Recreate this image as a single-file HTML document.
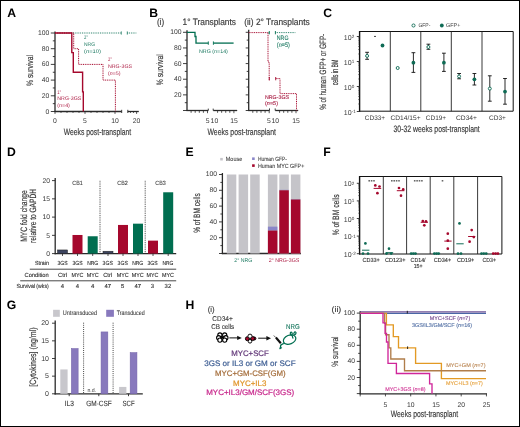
<!DOCTYPE html>
<html><head><meta charset="utf-8"><style>
html,body{margin:0;padding:0;background:#fff;}
svg{display:block;font-family:"Liberation Sans", sans-serif;will-change:transform;}
text{dominant-baseline:central;text-rendering:geometricPrecision;}
</style></head><body>
<svg width="520" height="427" viewBox="0 0 520 427">
<rect x="0.5" y="0.5" width="519" height="426" fill="#fff" stroke="#000" stroke-width="1"/>
<text x="7.30" y="12.70" font-size="12.2" fill="#000" font-weight="bold" >A</text>
<text x="149.15" y="12.85" font-size="12.2" fill="#000" font-weight="bold" >B</text>
<text x="323.35" y="12.70" font-size="12.2" fill="#000" font-weight="bold" >C</text>
<text x="7.05" y="151.95" font-size="12.2" fill="#000" font-weight="bold" >D</text>
<text x="185.55" y="152.10" font-size="12.2" fill="#000" font-weight="bold" >E</text>
<text x="323.35" y="152.10" font-size="12.2" fill="#000" font-weight="bold" >F</text>
<text x="6.80" y="305.25" font-size="12.2" fill="#000" font-weight="bold" >G</text>
<text x="185.55" y="305.10" font-size="12.2" fill="#000" font-weight="bold" >H</text>
<line x1="55.00" y1="31.50" x2="55.00" y2="112.10" stroke="#2a2a2a" stroke-width="1.3" />
<line x1="50.80" y1="111.50" x2="55.00" y2="111.50" stroke="#2a2a2a" stroke-width="0.9" />
<line x1="52.80" y1="103.65" x2="55.00" y2="103.65" stroke="#2a2a2a" stroke-width="0.9" />
<line x1="50.80" y1="95.80" x2="55.00" y2="95.80" stroke="#2a2a2a" stroke-width="0.9" />
<line x1="52.80" y1="87.95" x2="55.00" y2="87.95" stroke="#2a2a2a" stroke-width="0.9" />
<line x1="50.80" y1="80.10" x2="55.00" y2="80.10" stroke="#2a2a2a" stroke-width="0.9" />
<line x1="52.80" y1="72.25" x2="55.00" y2="72.25" stroke="#2a2a2a" stroke-width="0.9" />
<line x1="50.80" y1="64.40" x2="55.00" y2="64.40" stroke="#2a2a2a" stroke-width="0.9" />
<line x1="52.80" y1="56.55" x2="55.00" y2="56.55" stroke="#2a2a2a" stroke-width="0.9" />
<line x1="50.80" y1="48.70" x2="55.00" y2="48.70" stroke="#2a2a2a" stroke-width="0.9" />
<line x1="52.80" y1="40.85" x2="55.00" y2="40.85" stroke="#2a2a2a" stroke-width="0.9" />
<line x1="50.80" y1="33.00" x2="55.00" y2="33.00" stroke="#2a2a2a" stroke-width="0.9" />
<text x="49.40" y="112.00" font-size="6.8" fill="#3a3a3a" text-anchor="end" >0</text>
<text x="49.40" y="96.30" font-size="6.8" fill="#3a3a3a" text-anchor="end" >20</text>
<text x="49.40" y="80.60" font-size="6.8" fill="#3a3a3a" text-anchor="end" >40</text>
<text x="49.40" y="64.90" font-size="6.8" fill="#3a3a3a" text-anchor="end" >60</text>
<text x="49.40" y="49.20" font-size="6.8" fill="#3a3a3a" text-anchor="end" >80</text>
<text x="49.40" y="33.50" font-size="6.8" fill="#3a3a3a" text-anchor="end" >100</text>
<line x1="54.40" y1="111.50" x2="121.70" y2="111.50" stroke="#2a2a2a" stroke-width="1.3" />
<line x1="121.70" y1="109.80" x2="121.70" y2="113.00" stroke="#2a2a2a" stroke-width="0.9" />
<line x1="127.80" y1="111.50" x2="138.80" y2="111.50" stroke="#2a2a2a" stroke-width="1.3" />
<line x1="127.80" y1="109.80" x2="127.80" y2="113.00" stroke="#2a2a2a" stroke-width="0.9" />
<line x1="55.00" y1="111.50" x2="55.00" y2="113.90" stroke="#2a2a2a" stroke-width="0.8" />
<line x1="61.00" y1="111.50" x2="61.00" y2="112.90" stroke="#2a2a2a" stroke-width="0.8" />
<line x1="67.00" y1="111.50" x2="67.00" y2="112.90" stroke="#2a2a2a" stroke-width="0.8" />
<line x1="73.00" y1="111.50" x2="73.00" y2="112.90" stroke="#2a2a2a" stroke-width="0.8" />
<line x1="79.00" y1="111.50" x2="79.00" y2="112.90" stroke="#2a2a2a" stroke-width="0.8" />
<line x1="85.00" y1="111.50" x2="85.00" y2="113.90" stroke="#2a2a2a" stroke-width="0.8" />
<line x1="91.00" y1="111.50" x2="91.00" y2="112.90" stroke="#2a2a2a" stroke-width="0.8" />
<line x1="97.00" y1="111.50" x2="97.00" y2="112.90" stroke="#2a2a2a" stroke-width="0.8" />
<line x1="103.00" y1="111.50" x2="103.00" y2="112.90" stroke="#2a2a2a" stroke-width="0.8" />
<line x1="109.00" y1="111.50" x2="109.00" y2="112.90" stroke="#2a2a2a" stroke-width="0.8" />
<line x1="115.00" y1="111.50" x2="115.00" y2="113.90" stroke="#2a2a2a" stroke-width="0.8" />
<line x1="130.50" y1="111.50" x2="130.50" y2="112.90" stroke="#2a2a2a" stroke-width="0.8" />
<line x1="133.50" y1="111.50" x2="133.50" y2="112.90" stroke="#2a2a2a" stroke-width="0.8" />
<line x1="136.60" y1="111.50" x2="136.60" y2="113.90" stroke="#2a2a2a" stroke-width="0.8" />
<text x="55.00" y="121.40" font-size="6.8" fill="#3a3a3a" text-anchor="middle" >0</text>
<text x="85.00" y="121.40" font-size="6.8" fill="#3a3a3a" text-anchor="middle" >5</text>
<text x="115.00" y="121.40" font-size="6.8" fill="#3a3a3a" text-anchor="middle" >10</text>
<text x="136.60" y="121.40" font-size="6.8" fill="#3a3a3a" text-anchor="middle" >20</text>
<text x="97.50" y="132.20" font-size="9.2" fill="#3a3a3a" stroke="#3a3a3a" stroke-width="0.18" text-anchor="middle" textLength="67.50" lengthAdjust="spacingAndGlyphs" >Weeks post-transplant</text>
<text x="29.80" y="70.50" font-size="9.2" fill="#3a3a3a" stroke="#3a3a3a" stroke-width="0.18" text-anchor="middle" textLength="31.00" lengthAdjust="spacingAndGlyphs" transform="rotate(-90 29.80 70.50)" >% survival</text>
<polyline points="55.00,33.00 121.50,33.00" fill="none" stroke="#1d7a62" stroke-width="1.1" stroke-dasharray="0.9 0.9" />
<polyline points="127.30,33.00 136.60,33.00" fill="none" stroke="#1d7a62" stroke-width="1.1" stroke-dasharray="0.9 0.9" />
<line x1="121.30" y1="31.40" x2="121.30" y2="34.60" stroke="#1d7a62" stroke-width="0.8" />
<line x1="127.30" y1="31.40" x2="127.30" y2="34.60" stroke="#1d7a62" stroke-width="0.8" />
<polyline points="55.00,33.00 73.70,33.00 73.70,48.70 78.60,48.70 78.60,64.40 103.00,64.40 103.00,80.10 115.40,80.10 115.40,111.50" fill="none" stroke="#a5082d" stroke-width="1.0" stroke-dasharray="1 0.8" />
<polyline points="55.00,33.00 71.80,33.00 71.80,52.62 73.30,52.62 73.30,72.25 82.60,72.25 82.60,91.88 83.30,91.88 83.30,111.50" fill="none" stroke="#a5082d" stroke-width="1.4" />
<text x="84.00" y="38.10" font-size="5.2" fill="#1d7a62" textLength="4.00" lengthAdjust="spacingAndGlyphs" >2°</text>
<text x="84.00" y="45.00" font-size="5.2" fill="#1d7a62" textLength="11.00" lengthAdjust="spacingAndGlyphs" >NRG</text>
<text x="84.00" y="51.70" font-size="5.2" fill="#1d7a62" textLength="17.00" lengthAdjust="spacingAndGlyphs" >(<tspan font-style="italic">n</tspan>=10)</text>
<text x="108.00" y="60.40" font-size="5.2" fill="#b0244a" textLength="4.00" lengthAdjust="spacingAndGlyphs" >2°</text>
<text x="108.00" y="66.80" font-size="5.2" fill="#b0244a" textLength="24.00" lengthAdjust="spacingAndGlyphs" >NRG-3GS</text>
<text x="108.00" y="73.60" font-size="5.2" fill="#b0244a" textLength="12.60" lengthAdjust="spacingAndGlyphs" >(<tspan font-style="italic">n</tspan>=5)</text>
<text x="57.30" y="92.70" font-size="5.2" fill="#b0244a" textLength="4.00" lengthAdjust="spacingAndGlyphs" >1°</text>
<text x="57.30" y="99.20" font-size="5.2" fill="#b0244a" textLength="24.00" lengthAdjust="spacingAndGlyphs" >NRG-3GS</text>
<text x="57.30" y="105.80" font-size="5.2" fill="#b0244a" textLength="12.60" lengthAdjust="spacingAndGlyphs" >(<tspan font-style="italic">n</tspan>=4)</text>
<text x="156.90" y="21.70" font-size="9.3" fill="#3a3a3a" stroke="#3a3a3a" stroke-width="0.18" textLength="7.20" lengthAdjust="spacingAndGlyphs" >(i)</text>
<text x="182.50" y="21.70" font-size="9.3" fill="#3a3a3a" stroke="#3a3a3a" stroke-width="0.18" textLength="53.50" lengthAdjust="spacingAndGlyphs" >1° Transplants</text>
<text x="244.20" y="21.70" font-size="9.3" fill="#3a3a3a" stroke="#3a3a3a" stroke-width="0.18" textLength="65.60" lengthAdjust="spacingAndGlyphs" >(ii) 2° Transplants</text>
<line x1="187.00" y1="30.20" x2="187.00" y2="111.10" stroke="#2a2a2a" stroke-width="1.3" />
<line x1="183.00" y1="110.50" x2="187.00" y2="110.50" stroke="#2a2a2a" stroke-width="0.9" />
<line x1="184.80" y1="102.68" x2="187.00" y2="102.68" stroke="#2a2a2a" stroke-width="0.9" />
<line x1="183.00" y1="94.86" x2="187.00" y2="94.86" stroke="#2a2a2a" stroke-width="0.9" />
<line x1="184.80" y1="87.04" x2="187.00" y2="87.04" stroke="#2a2a2a" stroke-width="0.9" />
<line x1="183.00" y1="79.22" x2="187.00" y2="79.22" stroke="#2a2a2a" stroke-width="0.9" />
<line x1="184.80" y1="71.40" x2="187.00" y2="71.40" stroke="#2a2a2a" stroke-width="0.9" />
<line x1="183.00" y1="63.58" x2="187.00" y2="63.58" stroke="#2a2a2a" stroke-width="0.9" />
<line x1="184.80" y1="55.76" x2="187.00" y2="55.76" stroke="#2a2a2a" stroke-width="0.9" />
<line x1="183.00" y1="47.94" x2="187.00" y2="47.94" stroke="#2a2a2a" stroke-width="0.9" />
<line x1="184.80" y1="40.12" x2="187.00" y2="40.12" stroke="#2a2a2a" stroke-width="0.9" />
<line x1="183.00" y1="32.30" x2="187.00" y2="32.30" stroke="#2a2a2a" stroke-width="0.9" />
<text x="181.60" y="95.36" font-size="6.8" fill="#3a3a3a" text-anchor="end" >20</text>
<text x="181.60" y="79.72" font-size="6.8" fill="#3a3a3a" text-anchor="end" >40</text>
<text x="181.60" y="64.08" font-size="6.8" fill="#3a3a3a" text-anchor="end" >60</text>
<text x="181.60" y="48.44" font-size="6.8" fill="#3a3a3a" text-anchor="end" >80</text>
<text x="181.60" y="32.80" font-size="6.8" fill="#3a3a3a" text-anchor="end" >100</text>
<line x1="186.40" y1="110.50" x2="208.30" y2="110.50" stroke="#2a2a2a" stroke-width="1.3" />
<line x1="208.30" y1="108.60" x2="208.30" y2="110.50" stroke="#2a2a2a" stroke-width="0.9" />
<line x1="213.20" y1="110.50" x2="237.20" y2="110.50" stroke="#2a2a2a" stroke-width="1.3" />
<line x1="213.20" y1="108.60" x2="213.20" y2="110.50" stroke="#2a2a2a" stroke-width="0.9" />
<line x1="191.10" y1="110.50" x2="191.10" y2="112.80" stroke="#2a2a2a" stroke-width="0.8" />
<line x1="195.20" y1="110.50" x2="195.20" y2="112.80" stroke="#2a2a2a" stroke-width="0.8" />
<line x1="199.30" y1="110.50" x2="199.30" y2="112.80" stroke="#2a2a2a" stroke-width="0.8" />
<line x1="203.40" y1="110.50" x2="203.40" y2="112.80" stroke="#2a2a2a" stroke-width="0.8" />
<line x1="207.50" y1="110.50" x2="207.50" y2="113.20" stroke="#2a2a2a" stroke-width="0.8" />
<line x1="217.58" y1="110.50" x2="217.58" y2="112.80" stroke="#2a2a2a" stroke-width="0.8" />
<line x1="221.66" y1="110.50" x2="221.66" y2="112.80" stroke="#2a2a2a" stroke-width="0.8" />
<line x1="225.74" y1="110.50" x2="225.74" y2="112.80" stroke="#2a2a2a" stroke-width="0.8" />
<line x1="229.82" y1="110.50" x2="229.82" y2="112.80" stroke="#2a2a2a" stroke-width="0.8" />
<line x1="233.90" y1="110.50" x2="233.90" y2="113.20" stroke="#2a2a2a" stroke-width="0.8" />
<text x="207.70" y="121.40" font-size="6.8" fill="#3a3a3a" text-anchor="middle" >5</text>
<text x="214.40" y="121.40" font-size="6.8" fill="#3a3a3a" text-anchor="middle" >10</text>
<text x="234.00" y="121.40" font-size="6.8" fill="#3a3a3a" text-anchor="middle" >15</text>
<text x="160.50" y="69.80" font-size="9.2" fill="#3a3a3a" stroke="#3a3a3a" stroke-width="0.18" text-anchor="middle" textLength="31.00" lengthAdjust="spacingAndGlyphs" transform="rotate(-90 160.50 69.80)" >% survival</text>
<text x="241.70" y="131.80" font-size="9.2" fill="#3a3a3a" stroke="#3a3a3a" stroke-width="0.18" text-anchor="middle" textLength="68.50" lengthAdjust="spacingAndGlyphs" >Weeks post-transplant</text>
<polyline points="187.00,32.30 195.00,32.30 195.00,36.50 196.00,36.50 196.00,43.10 208.30,43.10" fill="none" stroke="#006e50" stroke-width="1.3" />
<polyline points="213.40,43.10 233.60,43.10" fill="none" stroke="#006e50" stroke-width="1.3" />
<line x1="208.30" y1="41.40" x2="208.30" y2="44.80" stroke="#006e50" stroke-width="0.9" />
<line x1="213.40" y1="41.40" x2="213.40" y2="44.80" stroke="#006e50" stroke-width="0.9" />
<text x="199.00" y="51.60" font-size="5.2" fill="#1d7a62" textLength="28.90" lengthAdjust="spacingAndGlyphs" >NRG (<tspan font-style="italic">n</tspan>=14)</text>
<line x1="248.70" y1="29.70" x2="248.70" y2="111.10" stroke="#2a2a2a" stroke-width="1.3" />
<line x1="245.70" y1="110.50" x2="248.70" y2="110.50" stroke="#2a2a2a" stroke-width="0.9" />
<line x1="246.70" y1="102.68" x2="248.70" y2="102.68" stroke="#2a2a2a" stroke-width="0.9" />
<line x1="245.70" y1="94.86" x2="248.70" y2="94.86" stroke="#2a2a2a" stroke-width="0.9" />
<line x1="246.70" y1="87.04" x2="248.70" y2="87.04" stroke="#2a2a2a" stroke-width="0.9" />
<line x1="245.70" y1="79.22" x2="248.70" y2="79.22" stroke="#2a2a2a" stroke-width="0.9" />
<line x1="246.70" y1="71.40" x2="248.70" y2="71.40" stroke="#2a2a2a" stroke-width="0.9" />
<line x1="245.70" y1="63.58" x2="248.70" y2="63.58" stroke="#2a2a2a" stroke-width="0.9" />
<line x1="246.70" y1="55.76" x2="248.70" y2="55.76" stroke="#2a2a2a" stroke-width="0.9" />
<line x1="245.70" y1="47.94" x2="248.70" y2="47.94" stroke="#2a2a2a" stroke-width="0.9" />
<line x1="246.70" y1="40.12" x2="248.70" y2="40.12" stroke="#2a2a2a" stroke-width="0.9" />
<line x1="245.70" y1="32.30" x2="248.70" y2="32.30" stroke="#2a2a2a" stroke-width="0.9" />
<line x1="248.10" y1="110.50" x2="269.50" y2="110.50" stroke="#2a2a2a" stroke-width="1.3" />
<line x1="269.50" y1="108.40" x2="269.50" y2="110.50" stroke="#2a2a2a" stroke-width="0.9" />
<line x1="275.20" y1="110.50" x2="298.20" y2="110.50" stroke="#2a2a2a" stroke-width="1.3" />
<line x1="275.20" y1="108.40" x2="275.20" y2="110.50" stroke="#2a2a2a" stroke-width="0.9" />
<line x1="252.80" y1="110.50" x2="252.80" y2="112.80" stroke="#2a2a2a" stroke-width="0.8" />
<line x1="256.90" y1="110.50" x2="256.90" y2="112.80" stroke="#2a2a2a" stroke-width="0.8" />
<line x1="261.00" y1="110.50" x2="261.00" y2="112.80" stroke="#2a2a2a" stroke-width="0.8" />
<line x1="265.10" y1="110.50" x2="265.10" y2="112.80" stroke="#2a2a2a" stroke-width="0.8" />
<line x1="269.20" y1="110.50" x2="269.20" y2="113.20" stroke="#2a2a2a" stroke-width="0.8" />
<line x1="279.60" y1="110.50" x2="279.60" y2="112.80" stroke="#2a2a2a" stroke-width="0.8" />
<line x1="283.70" y1="110.50" x2="283.70" y2="112.80" stroke="#2a2a2a" stroke-width="0.8" />
<line x1="287.80" y1="110.50" x2="287.80" y2="112.80" stroke="#2a2a2a" stroke-width="0.8" />
<line x1="291.90" y1="110.50" x2="291.90" y2="112.80" stroke="#2a2a2a" stroke-width="0.8" />
<line x1="296.00" y1="110.50" x2="296.00" y2="113.20" stroke="#2a2a2a" stroke-width="0.8" />
<text x="269.00" y="121.40" font-size="6.8" fill="#3a3a3a" text-anchor="middle" >5</text>
<text x="275.20" y="121.40" font-size="6.8" fill="#3a3a3a" text-anchor="middle" >10</text>
<text x="296.00" y="121.40" font-size="6.8" fill="#3a3a3a" text-anchor="middle" >15</text>
<polyline points="248.70,32.60 268.00,32.60 268.00,62.00 269.20,62.00 269.20,80.50" fill="none" stroke="#a5082d" stroke-width="1.0" stroke-dasharray="1 0.8" />
<polyline points="275.70,78.60 280.00,78.60 280.00,93.60 296.50,93.60 296.50,110.50" fill="none" stroke="#a5082d" stroke-width="1.0" stroke-dasharray="1 0.8" />
<line x1="269.30" y1="77.00" x2="269.30" y2="80.50" stroke="#a5082d" stroke-width="0.9" />
<line x1="275.70" y1="77.00" x2="275.70" y2="80.30" stroke="#a5082d" stroke-width="0.9" />
<polyline points="268.50,32.60 269.30,32.60" fill="none" stroke="#006e50" stroke-width="1.0" />
<line x1="269.30" y1="31.00" x2="269.30" y2="34.30" stroke="#006e50" stroke-width="0.9" />
<line x1="275.40" y1="31.00" x2="275.40" y2="34.30" stroke="#006e50" stroke-width="0.9" />
<polyline points="275.40,32.60 295.50,32.60" fill="none" stroke="#1d7a62" stroke-width="1.0" stroke-dasharray="0.9 0.9" />
<text x="276.80" y="38.40" font-size="6.4" fill="#1d7a62" stroke="#1d7a62" stroke-width="0.1" textLength="11.70" lengthAdjust="spacingAndGlyphs" >NRG</text>
<text x="276.80" y="45.20" font-size="6.4" fill="#1d7a62" stroke="#1d7a62" stroke-width="0.1" textLength="13.10" lengthAdjust="spacingAndGlyphs" >(<tspan font-style="italic">n</tspan>=5)</text>
<text x="265.00" y="97.60" font-size="5.5" fill="#a91e44" stroke="#a91e44" stroke-width="0.12" textLength="24.00" lengthAdjust="spacingAndGlyphs" >NRG-3GS</text>
<text x="265.00" y="104.00" font-size="5.5" fill="#a91e44" stroke="#a91e44" stroke-width="0.12" textLength="13.00" lengthAdjust="spacingAndGlyphs" >(<tspan font-style="italic">n</tspan>=5)</text>
<circle cx="413.50" cy="25.50" r="1.55" fill="#fff" stroke="#0f6b55" stroke-width="0.9"/>
<text x="418.40" y="25.60" font-size="5.5" fill="#3a3a3a" textLength="12.00" lengthAdjust="spacingAndGlyphs" >GFP-</text>
<circle cx="441.80" cy="25.50" r="1.90" fill="#0f6b55"/>
<text x="446.00" y="25.60" font-size="5.5" fill="#3a3a3a" textLength="14.30" lengthAdjust="spacingAndGlyphs" >GFP+</text>
<line x1="359.60" y1="31.50" x2="513.20" y2="31.50" stroke="#111" stroke-width="1.0" />
<line x1="513.20" y1="31.50" x2="513.20" y2="111.20" stroke="#111" stroke-width="1.0" />
<line x1="359.00" y1="111.20" x2="513.20" y2="111.20" stroke="#111" stroke-width="1.0" />
<line x1="359.60" y1="31.00" x2="359.60" y2="111.70" stroke="#111" stroke-width="1.4" />
<line x1="390.30" y1="31.50" x2="390.30" y2="111.20" stroke="#222" stroke-width="0.9" />
<line x1="420.80" y1="31.50" x2="420.80" y2="111.20" stroke="#222" stroke-width="0.9" />
<line x1="451.30" y1="31.50" x2="451.30" y2="111.20" stroke="#222" stroke-width="0.9" />
<line x1="482.00" y1="31.50" x2="482.00" y2="111.20" stroke="#222" stroke-width="0.9" />
<line x1="356.80" y1="36.50" x2="359.60" y2="36.50" stroke="#2a2a2a" stroke-width="0.9" />
<text x="351.60" y="38.00" font-size="7.0" fill="#3a3a3a" text-anchor="end" >10</text>
<text x="351.80" y="36.30" font-size="4.6" fill="#3a3a3a" >2</text>
<line x1="358.20" y1="53.97" x2="359.60" y2="53.97" stroke="#2a2a2a" stroke-width="0.6" />
<line x1="358.20" y1="49.57" x2="359.60" y2="49.57" stroke="#2a2a2a" stroke-width="0.6" />
<line x1="358.20" y1="46.45" x2="359.60" y2="46.45" stroke="#2a2a2a" stroke-width="0.6" />
<line x1="358.20" y1="44.03" x2="359.60" y2="44.03" stroke="#2a2a2a" stroke-width="0.6" />
<line x1="358.20" y1="42.05" x2="359.60" y2="42.05" stroke="#2a2a2a" stroke-width="0.6" />
<line x1="358.20" y1="40.37" x2="359.60" y2="40.37" stroke="#2a2a2a" stroke-width="0.6" />
<line x1="358.20" y1="38.92" x2="359.60" y2="38.92" stroke="#2a2a2a" stroke-width="0.6" />
<line x1="358.20" y1="37.64" x2="359.60" y2="37.64" stroke="#2a2a2a" stroke-width="0.6" />
<line x1="356.80" y1="61.50" x2="359.60" y2="61.50" stroke="#2a2a2a" stroke-width="0.9" />
<text x="351.60" y="63.00" font-size="7.0" fill="#3a3a3a" text-anchor="end" >10</text>
<text x="351.80" y="61.30" font-size="4.6" fill="#3a3a3a" >1</text>
<line x1="358.20" y1="78.97" x2="359.60" y2="78.97" stroke="#2a2a2a" stroke-width="0.6" />
<line x1="358.20" y1="74.57" x2="359.60" y2="74.57" stroke="#2a2a2a" stroke-width="0.6" />
<line x1="358.20" y1="71.45" x2="359.60" y2="71.45" stroke="#2a2a2a" stroke-width="0.6" />
<line x1="358.20" y1="69.03" x2="359.60" y2="69.03" stroke="#2a2a2a" stroke-width="0.6" />
<line x1="358.20" y1="67.05" x2="359.60" y2="67.05" stroke="#2a2a2a" stroke-width="0.6" />
<line x1="358.20" y1="65.37" x2="359.60" y2="65.37" stroke="#2a2a2a" stroke-width="0.6" />
<line x1="358.20" y1="63.92" x2="359.60" y2="63.92" stroke="#2a2a2a" stroke-width="0.6" />
<line x1="358.20" y1="62.64" x2="359.60" y2="62.64" stroke="#2a2a2a" stroke-width="0.6" />
<line x1="356.80" y1="86.50" x2="359.60" y2="86.50" stroke="#2a2a2a" stroke-width="0.9" />
<text x="351.60" y="88.00" font-size="7.0" fill="#3a3a3a" text-anchor="end" >10</text>
<text x="351.80" y="86.30" font-size="4.6" fill="#3a3a3a" >0</text>
<line x1="358.20" y1="103.97" x2="359.60" y2="103.97" stroke="#2a2a2a" stroke-width="0.6" />
<line x1="358.20" y1="99.57" x2="359.60" y2="99.57" stroke="#2a2a2a" stroke-width="0.6" />
<line x1="358.20" y1="96.45" x2="359.60" y2="96.45" stroke="#2a2a2a" stroke-width="0.6" />
<line x1="358.20" y1="94.03" x2="359.60" y2="94.03" stroke="#2a2a2a" stroke-width="0.6" />
<line x1="358.20" y1="92.05" x2="359.60" y2="92.05" stroke="#2a2a2a" stroke-width="0.6" />
<line x1="358.20" y1="90.37" x2="359.60" y2="90.37" stroke="#2a2a2a" stroke-width="0.6" />
<line x1="358.20" y1="88.92" x2="359.60" y2="88.92" stroke="#2a2a2a" stroke-width="0.6" />
<line x1="358.20" y1="87.64" x2="359.60" y2="87.64" stroke="#2a2a2a" stroke-width="0.6" />
<line x1="356.80" y1="111.50" x2="359.60" y2="111.50" stroke="#2a2a2a" stroke-width="0.9" />
<text x="351.60" y="113.00" font-size="7.0" fill="#3a3a3a" text-anchor="end" >10</text>
<text x="351.80" y="111.30" font-size="4.6" fill="#3a3a3a" >-1</text>
<text x="322.90" y="71.80" font-size="9.2" fill="#3a3a3a" stroke="#3a3a3a" stroke-width="0.18" text-anchor="middle" textLength="76.00" lengthAdjust="spacingAndGlyphs" transform="rotate(-90 322.90 71.80)" >% of human GFP+ or GFP-</text>
<text x="334.60" y="72.40" font-size="9.2" fill="#3a3a3a" stroke="#3a3a3a" stroke-width="0.18" text-anchor="middle" textLength="25.80" lengthAdjust="spacingAndGlyphs" transform="rotate(-90 334.60 72.40)" >cells in BM</text>
<text x="375.00" y="118.40" font-size="6.6" fill="#3a3a3a" text-anchor="middle" textLength="20.30" lengthAdjust="spacingAndGlyphs" >CD33+</text>
<text x="405.50" y="118.40" font-size="6.6" fill="#3a3a3a" text-anchor="middle" textLength="30.00" lengthAdjust="spacingAndGlyphs" >CD14/15+</text>
<text x="436.00" y="118.40" font-size="6.6" fill="#3a3a3a" text-anchor="middle" textLength="20.30" lengthAdjust="spacingAndGlyphs" >CD19+</text>
<text x="466.50" y="118.40" font-size="6.6" fill="#3a3a3a" text-anchor="middle" textLength="21.00" lengthAdjust="spacingAndGlyphs" >CD34+</text>
<text x="497.40" y="118.40" font-size="6.6" fill="#3a3a3a" text-anchor="middle" textLength="16.80" lengthAdjust="spacingAndGlyphs" >CD3+</text>
<text x="436.60" y="129.00" font-size="9.2" fill="#3a3a3a" stroke="#3a3a3a" stroke-width="0.18" text-anchor="middle" textLength="86.20" lengthAdjust="spacingAndGlyphs" >30-32 weeks post-transplant</text>
<line x1="367.10" y1="52.30" x2="367.10" y2="59.30" stroke="#111" stroke-width="0.9" />
<line x1="365.20" y1="52.30" x2="369.00" y2="52.30" stroke="#111" stroke-width="0.9" />
<line x1="365.20" y1="59.30" x2="369.00" y2="59.30" stroke="#111" stroke-width="0.9" />
<circle cx="367.10" cy="55.90" r="1.50" fill="#fff" stroke="#0f6b55" stroke-width="0.95"/>
<circle cx="382.50" cy="45.50" r="1.90" fill="#0f6b55"/>
<circle cx="397.70" cy="68.00" r="1.50" fill="#fff" stroke="#0f6b55" stroke-width="0.95"/>
<line x1="413.40" y1="52.70" x2="413.40" y2="72.40" stroke="#111" stroke-width="0.9" />
<line x1="411.50" y1="52.70" x2="415.30" y2="52.70" stroke="#111" stroke-width="0.9" />
<line x1="411.50" y1="72.40" x2="415.30" y2="72.40" stroke="#111" stroke-width="0.9" />
<circle cx="413.40" cy="62.70" r="1.90" fill="#0f6b55"/>
<line x1="428.40" y1="44.20" x2="428.40" y2="49.30" stroke="#111" stroke-width="0.9" />
<line x1="426.50" y1="44.20" x2="430.30" y2="44.20" stroke="#111" stroke-width="0.9" />
<line x1="426.50" y1="49.30" x2="430.30" y2="49.30" stroke="#111" stroke-width="0.9" />
<circle cx="428.40" cy="47.00" r="1.50" fill="#fff" stroke="#0f6b55" stroke-width="0.95"/>
<line x1="443.90" y1="53.20" x2="443.90" y2="71.40" stroke="#111" stroke-width="0.9" />
<line x1="442.00" y1="53.20" x2="445.80" y2="53.20" stroke="#111" stroke-width="0.9" />
<line x1="442.00" y1="71.40" x2="445.80" y2="71.40" stroke="#111" stroke-width="0.9" />
<circle cx="443.90" cy="62.70" r="1.90" fill="#0f6b55"/>
<line x1="459.10" y1="73.50" x2="459.10" y2="78.80" stroke="#111" stroke-width="0.9" />
<line x1="457.20" y1="73.50" x2="461.00" y2="73.50" stroke="#111" stroke-width="0.9" />
<line x1="457.20" y1="78.80" x2="461.00" y2="78.80" stroke="#111" stroke-width="0.9" />
<circle cx="459.10" cy="76.40" r="1.50" fill="#fff" stroke="#0f6b55" stroke-width="0.95"/>
<line x1="474.40" y1="73.50" x2="474.40" y2="85.00" stroke="#111" stroke-width="0.9" />
<line x1="472.50" y1="73.50" x2="476.30" y2="73.50" stroke="#111" stroke-width="0.9" />
<line x1="472.50" y1="85.00" x2="476.30" y2="85.00" stroke="#111" stroke-width="0.9" />
<circle cx="474.40" cy="79.30" r="1.90" fill="#0f6b55"/>
<line x1="489.80" y1="75.80" x2="489.80" y2="101.20" stroke="#111" stroke-width="0.9" />
<line x1="487.90" y1="75.80" x2="491.70" y2="75.80" stroke="#111" stroke-width="0.9" />
<line x1="487.90" y1="101.20" x2="491.70" y2="101.20" stroke="#111" stroke-width="0.9" />
<circle cx="489.80" cy="88.60" r="1.50" fill="#fff" stroke="#0f6b55" stroke-width="0.95"/>
<line x1="505.00" y1="78.50" x2="505.00" y2="104.20" stroke="#111" stroke-width="0.9" />
<line x1="503.10" y1="78.50" x2="506.90" y2="78.50" stroke="#111" stroke-width="0.9" />
<line x1="503.10" y1="104.20" x2="506.90" y2="104.20" stroke="#111" stroke-width="0.9" />
<circle cx="505.00" cy="91.60" r="1.90" fill="#0f6b55"/>
<rect x="374.20" y="35.90" width="1.60" height="1.10" fill="#2a2a2a"/>
<line x1="55.20" y1="178.00" x2="55.20" y2="254.20" stroke="#2a2a2a" stroke-width="1.3" />
<line x1="52.00" y1="253.60" x2="55.20" y2="253.60" stroke="#2a2a2a" stroke-width="0.9" />
<text x="50.00" y="254.40" font-size="6.8" fill="#3a3a3a" text-anchor="end" >0</text>
<line x1="52.00" y1="235.35" x2="55.20" y2="235.35" stroke="#2a2a2a" stroke-width="0.9" />
<text x="50.00" y="236.15" font-size="6.8" fill="#3a3a3a" text-anchor="end" >5</text>
<line x1="52.00" y1="217.10" x2="55.20" y2="217.10" stroke="#2a2a2a" stroke-width="0.9" />
<text x="50.00" y="217.90" font-size="6.8" fill="#3a3a3a" text-anchor="end" >10</text>
<line x1="52.00" y1="198.85" x2="55.20" y2="198.85" stroke="#2a2a2a" stroke-width="0.9" />
<text x="50.00" y="199.65" font-size="6.8" fill="#3a3a3a" text-anchor="end" >15</text>
<line x1="52.00" y1="180.60" x2="55.20" y2="180.60" stroke="#2a2a2a" stroke-width="0.9" />
<text x="50.00" y="181.40" font-size="6.8" fill="#3a3a3a" text-anchor="end" >20</text>
<line x1="54.60" y1="253.60" x2="176.20" y2="253.60" stroke="#2a2a2a" stroke-width="1.3" />
<rect x="57.50" y="249.95" width="10.00" height="3.65" fill="#3d4560" stroke="#222" stroke-width="0.5"/>
<line x1="62.50" y1="253.60" x2="62.50" y2="256.00" stroke="#2a2a2a" stroke-width="0.8" />
<rect x="72.50" y="234.98" width="10.00" height="18.62" fill="#a5082d"/>
<line x1="77.50" y1="253.60" x2="77.50" y2="256.00" stroke="#2a2a2a" stroke-width="0.8" />
<rect x="87.70" y="236.26" width="10.00" height="17.34" fill="#006e50"/>
<line x1="92.70" y1="253.60" x2="92.70" y2="256.00" stroke="#2a2a2a" stroke-width="0.8" />
<rect x="103.00" y="251.23" width="10.00" height="2.37" fill="#3d4560" stroke="#222" stroke-width="0.5"/>
<line x1="108.00" y1="253.60" x2="108.00" y2="256.00" stroke="#2a2a2a" stroke-width="0.8" />
<rect x="118.00" y="224.95" width="10.00" height="28.65" fill="#a5082d"/>
<line x1="123.00" y1="253.60" x2="123.00" y2="256.00" stroke="#2a2a2a" stroke-width="0.8" />
<rect x="133.00" y="223.67" width="10.00" height="29.93" fill="#006e50"/>
<line x1="138.00" y1="253.60" x2="138.00" y2="256.00" stroke="#2a2a2a" stroke-width="0.8" />
<rect x="148.00" y="240.64" width="10.00" height="12.96" fill="#a5082d"/>
<line x1="153.00" y1="253.60" x2="153.00" y2="256.00" stroke="#2a2a2a" stroke-width="0.8" />
<rect x="163.20" y="192.28" width="10.00" height="61.32" fill="#006e50"/>
<line x1="168.20" y1="253.60" x2="168.20" y2="256.00" stroke="#2a2a2a" stroke-width="0.8" />
<line x1="100.00" y1="180.80" x2="100.00" y2="253.00" stroke="#333" stroke-width="0.9" stroke-dasharray="0.9 0.9"/>
<line x1="145.20" y1="180.80" x2="145.20" y2="253.00" stroke="#333" stroke-width="0.9" stroke-dasharray="0.9 0.9"/>
<text x="77.50" y="184.00" font-size="6.0" fill="#3a3a3a" stroke="#3a3a3a" stroke-width="0.08" text-anchor="middle" textLength="10.50" lengthAdjust="spacingAndGlyphs" >CB1</text>
<text x="122.50" y="184.00" font-size="6.0" fill="#3a3a3a" stroke="#3a3a3a" stroke-width="0.08" text-anchor="middle" textLength="10.50" lengthAdjust="spacingAndGlyphs" >CB2</text>
<text x="160.60" y="184.00" font-size="6.0" fill="#3a3a3a" stroke="#3a3a3a" stroke-width="0.08" text-anchor="middle" textLength="10.50" lengthAdjust="spacingAndGlyphs" >CB3</text>
<text x="23.70" y="216.00" font-size="9.2" fill="#3a3a3a" stroke="#3a3a3a" stroke-width="0.18" text-anchor="middle" textLength="51.70" lengthAdjust="spacingAndGlyphs" transform="rotate(-90 23.70 216.00)" >MYC fold change</text>
<text x="33.20" y="216.00" font-size="9.2" fill="#3a3a3a" stroke="#3a3a3a" stroke-width="0.18" text-anchor="middle" textLength="53.80" lengthAdjust="spacingAndGlyphs" transform="rotate(-90 33.20 216.00)" >relative to GAPDH</text>
<text x="49.00" y="264.00" font-size="5.9" fill="#262626" stroke="#262626" stroke-width="0.1" text-anchor="end" textLength="14.00" lengthAdjust="spacingAndGlyphs" >Strain</text>
<text x="48.70" y="275.80" font-size="5.9" fill="#262626" stroke="#262626" stroke-width="0.1" text-anchor="end" textLength="24.20" lengthAdjust="spacingAndGlyphs" >Condition</text>
<text x="48.70" y="287.40" font-size="5.9" fill="#262626" stroke="#262626" stroke-width="0.1" text-anchor="end" textLength="32.20" lengthAdjust="spacingAndGlyphs" >Survival (wks)</text>
<text x="62.50" y="264.00" font-size="5.9" fill="#262626" stroke="#262626" stroke-width="0.1" text-anchor="middle" textLength="10.20" lengthAdjust="spacingAndGlyphs" >3GS</text>
<text x="62.50" y="275.80" font-size="5.9" fill="#262626" stroke="#262626" stroke-width="0.1" text-anchor="middle" textLength="9.00" lengthAdjust="spacingAndGlyphs" >Ctrl</text>
<text x="62.50" y="287.40" font-size="5.9" fill="#262626" stroke="#262626" stroke-width="0.1" text-anchor="middle" >4</text>
<text x="77.50" y="264.00" font-size="5.9" fill="#262626" stroke="#262626" stroke-width="0.1" text-anchor="middle" textLength="10.20" lengthAdjust="spacingAndGlyphs" >3GS</text>
<text x="77.50" y="275.80" font-size="5.9" fill="#262626" stroke="#262626" stroke-width="0.1" text-anchor="middle" textLength="12.00" lengthAdjust="spacingAndGlyphs" >MYC</text>
<text x="77.50" y="287.40" font-size="5.9" fill="#262626" stroke="#262626" stroke-width="0.1" text-anchor="middle" >4</text>
<text x="92.70" y="264.00" font-size="5.9" fill="#262626" stroke="#262626" stroke-width="0.1" text-anchor="middle" textLength="11.00" lengthAdjust="spacingAndGlyphs" >NRG</text>
<text x="92.70" y="275.80" font-size="5.9" fill="#262626" stroke="#262626" stroke-width="0.1" text-anchor="middle" textLength="12.00" lengthAdjust="spacingAndGlyphs" >MYC</text>
<text x="92.70" y="287.40" font-size="5.9" fill="#262626" stroke="#262626" stroke-width="0.1" text-anchor="middle" >4</text>
<text x="107.70" y="264.00" font-size="5.9" fill="#262626" stroke="#262626" stroke-width="0.1" text-anchor="middle" textLength="10.20" lengthAdjust="spacingAndGlyphs" >3GS</text>
<text x="107.70" y="275.80" font-size="5.9" fill="#262626" stroke="#262626" stroke-width="0.1" text-anchor="middle" textLength="9.00" lengthAdjust="spacingAndGlyphs" >Ctrl</text>
<text x="107.70" y="287.40" font-size="5.9" fill="#262626" stroke="#262626" stroke-width="0.1" text-anchor="middle" >47</text>
<text x="122.70" y="264.00" font-size="5.9" fill="#262626" stroke="#262626" stroke-width="0.1" text-anchor="middle" textLength="10.20" lengthAdjust="spacingAndGlyphs" >3GS</text>
<text x="122.70" y="275.80" font-size="5.9" fill="#262626" stroke="#262626" stroke-width="0.1" text-anchor="middle" textLength="12.00" lengthAdjust="spacingAndGlyphs" >MYC</text>
<text x="122.70" y="287.40" font-size="5.9" fill="#262626" stroke="#262626" stroke-width="0.1" text-anchor="middle" >5</text>
<text x="137.70" y="264.00" font-size="5.9" fill="#262626" stroke="#262626" stroke-width="0.1" text-anchor="middle" textLength="11.00" lengthAdjust="spacingAndGlyphs" >NRG</text>
<text x="137.70" y="275.80" font-size="5.9" fill="#262626" stroke="#262626" stroke-width="0.1" text-anchor="middle" textLength="12.00" lengthAdjust="spacingAndGlyphs" >MYC</text>
<text x="137.70" y="287.40" font-size="5.9" fill="#262626" stroke="#262626" stroke-width="0.1" text-anchor="middle" >47</text>
<text x="152.50" y="264.00" font-size="5.9" fill="#262626" stroke="#262626" stroke-width="0.1" text-anchor="middle" textLength="10.20" lengthAdjust="spacingAndGlyphs" >3GS</text>
<text x="152.50" y="275.80" font-size="5.9" fill="#262626" stroke="#262626" stroke-width="0.1" text-anchor="middle" textLength="12.00" lengthAdjust="spacingAndGlyphs" >MYC</text>
<text x="152.50" y="287.40" font-size="5.9" fill="#262626" stroke="#262626" stroke-width="0.1" text-anchor="middle" >3</text>
<text x="167.90" y="264.00" font-size="5.9" fill="#262626" stroke="#262626" stroke-width="0.1" text-anchor="middle" textLength="11.00" lengthAdjust="spacingAndGlyphs" >NRG</text>
<text x="167.90" y="275.80" font-size="5.9" fill="#262626" stroke="#262626" stroke-width="0.1" text-anchor="middle" textLength="12.00" lengthAdjust="spacingAndGlyphs" >MYC</text>
<text x="167.90" y="287.40" font-size="5.9" fill="#262626" stroke="#262626" stroke-width="0.1" text-anchor="middle" >32</text>
<line x1="29.80" y1="269.20" x2="176.20" y2="269.20" stroke="#333" stroke-width="0.9" />
<line x1="20.20" y1="280.80" x2="176.20" y2="280.80" stroke="#333" stroke-width="0.9" />
<rect x="220.20" y="157.90" width="2.60" height="2.60" fill="#c5c4c9"/>
<text x="225.80" y="160.20" font-size="6.0" fill="#3a3a3a" stroke="#3a3a3a" stroke-width="0.08" textLength="16.40" lengthAdjust="spacingAndGlyphs" >Mouse</text>
<rect x="252.10" y="157.40" width="2.60" height="2.60" fill="#8a86c8"/>
<text x="257.90" y="160.00" font-size="6.0" fill="#3a3a3a" stroke="#3a3a3a" stroke-width="0.08" textLength="29.00" lengthAdjust="spacingAndGlyphs" >Human GFP-</text>
<rect x="252.10" y="164.30" width="2.60" height="2.60" fill="#a5082d"/>
<text x="257.90" y="167.00" font-size="6.0" fill="#3a3a3a" stroke="#3a3a3a" stroke-width="0.08" textLength="46.40" lengthAdjust="spacingAndGlyphs" >Human MYC GFP+</text>
<line x1="222.40" y1="173.00" x2="222.40" y2="254.10" stroke="#2a2a2a" stroke-width="1.3" />
<line x1="219.00" y1="253.50" x2="222.40" y2="253.50" stroke="#2a2a2a" stroke-width="0.9" />
<line x1="220.40" y1="245.60" x2="222.40" y2="245.60" stroke="#2a2a2a" stroke-width="0.9" />
<line x1="219.00" y1="237.70" x2="222.40" y2="237.70" stroke="#2a2a2a" stroke-width="0.9" />
<line x1="220.40" y1="229.80" x2="222.40" y2="229.80" stroke="#2a2a2a" stroke-width="0.9" />
<line x1="219.00" y1="221.90" x2="222.40" y2="221.90" stroke="#2a2a2a" stroke-width="0.9" />
<line x1="220.40" y1="214.00" x2="222.40" y2="214.00" stroke="#2a2a2a" stroke-width="0.9" />
<line x1="219.00" y1="206.10" x2="222.40" y2="206.10" stroke="#2a2a2a" stroke-width="0.9" />
<line x1="220.40" y1="198.20" x2="222.40" y2="198.20" stroke="#2a2a2a" stroke-width="0.9" />
<line x1="219.00" y1="190.30" x2="222.40" y2="190.30" stroke="#2a2a2a" stroke-width="0.9" />
<line x1="220.40" y1="182.40" x2="222.40" y2="182.40" stroke="#2a2a2a" stroke-width="0.9" />
<line x1="219.00" y1="174.50" x2="222.40" y2="174.50" stroke="#2a2a2a" stroke-width="0.9" />
<text x="217.00" y="238.10" font-size="6.8" fill="#3a3a3a" text-anchor="end" >20</text>
<text x="217.00" y="222.30" font-size="6.8" fill="#3a3a3a" text-anchor="end" >40</text>
<text x="217.00" y="206.50" font-size="6.8" fill="#3a3a3a" text-anchor="end" >60</text>
<text x="217.00" y="190.70" font-size="6.8" fill="#3a3a3a" text-anchor="end" >80</text>
<text x="217.00" y="174.90" font-size="6.8" fill="#3a3a3a" text-anchor="end" >100</text>
<line x1="221.80" y1="253.50" x2="301.00" y2="253.50" stroke="#2a2a2a" stroke-width="1.3" />
<rect x="226.80" y="174.50" width="9.50" height="79.00" fill="#c5c4c9"/>
<rect x="238.60" y="174.50" width="9.50" height="79.00" fill="#c5c4c9"/>
<rect x="250.20" y="174.50" width="9.50" height="79.00" fill="#c5c4c9"/>
<rect x="267.90" y="174.50" width="9.50" height="79.00" fill="#c5c4c9"/>
<rect x="267.90" y="226.64" width="9.50" height="3.95" fill="#8a86c8"/>
<rect x="267.90" y="230.59" width="9.50" height="22.91" fill="#a5082d"/>
<rect x="279.30" y="174.50" width="9.50" height="79.00" fill="#c5c4c9"/>
<rect x="279.30" y="189.83" width="9.50" height="0.47" fill="#8a86c8"/>
<rect x="279.30" y="190.30" width="9.50" height="63.20" fill="#a5082d"/>
<rect x="290.90" y="174.50" width="9.50" height="79.00" fill="#c5c4c9"/>
<rect x="290.90" y="199.07" width="9.50" height="0.47" fill="#8a86c8"/>
<rect x="290.90" y="199.54" width="9.50" height="53.96" fill="#a5082d"/>
<text x="197.40" y="213.00" font-size="9.2" fill="#3a3a3a" stroke="#3a3a3a" stroke-width="0.18" text-anchor="middle" textLength="39.50" lengthAdjust="spacingAndGlyphs" transform="rotate(-90 197.40 213.00)" >% of BM cells</text>
<text x="243.30" y="260.70" font-size="5.5" fill="#1d7a62" text-anchor="middle" textLength="18.00" lengthAdjust="spacingAndGlyphs" >2° NRG</text>
<text x="284.00" y="260.70" font-size="5.5" fill="#b0244a" text-anchor="middle" textLength="30.50" lengthAdjust="spacingAndGlyphs" >2° NRG-3GS</text>
<line x1="359.60" y1="176.50" x2="501.90" y2="176.50" stroke="#111" stroke-width="1.0" />
<line x1="501.90" y1="176.50" x2="501.90" y2="254.00" stroke="#111" stroke-width="1.0" />
<line x1="359.00" y1="254.00" x2="501.90" y2="254.00" stroke="#111" stroke-width="1.0" />
<line x1="359.60" y1="176.00" x2="359.60" y2="254.50" stroke="#111" stroke-width="1.4" />
<line x1="383.30" y1="176.50" x2="383.30" y2="254.00" stroke="#222" stroke-width="0.9" />
<line x1="406.60" y1="176.50" x2="406.60" y2="254.00" stroke="#222" stroke-width="0.9" />
<line x1="430.20" y1="176.50" x2="430.20" y2="254.00" stroke="#222" stroke-width="0.9" />
<line x1="453.80" y1="176.50" x2="453.80" y2="254.00" stroke="#222" stroke-width="0.9" />
<line x1="477.60" y1="176.50" x2="477.60" y2="254.00" stroke="#222" stroke-width="0.9" />
<line x1="356.80" y1="183.30" x2="359.60" y2="183.30" stroke="#2a2a2a" stroke-width="0.9" />
<text x="351.60" y="184.90" font-size="7.0" fill="#3a3a3a" text-anchor="end" >10</text>
<text x="351.80" y="183.20" font-size="4.6" fill="#3a3a3a" >2</text>
<line x1="358.20" y1="195.60" x2="359.60" y2="195.60" stroke="#2a2a2a" stroke-width="0.6" />
<line x1="358.20" y1="192.50" x2="359.60" y2="192.50" stroke="#2a2a2a" stroke-width="0.6" />
<line x1="358.20" y1="190.30" x2="359.60" y2="190.30" stroke="#2a2a2a" stroke-width="0.6" />
<line x1="358.20" y1="188.60" x2="359.60" y2="188.60" stroke="#2a2a2a" stroke-width="0.6" />
<line x1="358.20" y1="187.20" x2="359.60" y2="187.20" stroke="#2a2a2a" stroke-width="0.6" />
<line x1="358.20" y1="186.03" x2="359.60" y2="186.03" stroke="#2a2a2a" stroke-width="0.6" />
<line x1="358.20" y1="185.01" x2="359.60" y2="185.01" stroke="#2a2a2a" stroke-width="0.6" />
<line x1="358.20" y1="184.11" x2="359.60" y2="184.11" stroke="#2a2a2a" stroke-width="0.6" />
<line x1="356.80" y1="200.90" x2="359.60" y2="200.90" stroke="#2a2a2a" stroke-width="0.9" />
<text x="351.60" y="202.50" font-size="7.0" fill="#3a3a3a" text-anchor="end" >10</text>
<text x="351.80" y="200.80" font-size="4.6" fill="#3a3a3a" >1</text>
<line x1="358.20" y1="213.20" x2="359.60" y2="213.20" stroke="#2a2a2a" stroke-width="0.6" />
<line x1="358.20" y1="210.10" x2="359.60" y2="210.10" stroke="#2a2a2a" stroke-width="0.6" />
<line x1="358.20" y1="207.90" x2="359.60" y2="207.90" stroke="#2a2a2a" stroke-width="0.6" />
<line x1="358.20" y1="206.20" x2="359.60" y2="206.20" stroke="#2a2a2a" stroke-width="0.6" />
<line x1="358.20" y1="204.80" x2="359.60" y2="204.80" stroke="#2a2a2a" stroke-width="0.6" />
<line x1="358.20" y1="203.63" x2="359.60" y2="203.63" stroke="#2a2a2a" stroke-width="0.6" />
<line x1="358.20" y1="202.61" x2="359.60" y2="202.61" stroke="#2a2a2a" stroke-width="0.6" />
<line x1="358.20" y1="201.71" x2="359.60" y2="201.71" stroke="#2a2a2a" stroke-width="0.6" />
<line x1="356.80" y1="218.50" x2="359.60" y2="218.50" stroke="#2a2a2a" stroke-width="0.9" />
<text x="351.60" y="220.10" font-size="7.0" fill="#3a3a3a" text-anchor="end" >10</text>
<text x="351.80" y="218.40" font-size="4.6" fill="#3a3a3a" >0</text>
<line x1="358.20" y1="230.80" x2="359.60" y2="230.80" stroke="#2a2a2a" stroke-width="0.6" />
<line x1="358.20" y1="227.70" x2="359.60" y2="227.70" stroke="#2a2a2a" stroke-width="0.6" />
<line x1="358.20" y1="225.50" x2="359.60" y2="225.50" stroke="#2a2a2a" stroke-width="0.6" />
<line x1="358.20" y1="223.80" x2="359.60" y2="223.80" stroke="#2a2a2a" stroke-width="0.6" />
<line x1="358.20" y1="222.40" x2="359.60" y2="222.40" stroke="#2a2a2a" stroke-width="0.6" />
<line x1="358.20" y1="221.23" x2="359.60" y2="221.23" stroke="#2a2a2a" stroke-width="0.6" />
<line x1="358.20" y1="220.21" x2="359.60" y2="220.21" stroke="#2a2a2a" stroke-width="0.6" />
<line x1="358.20" y1="219.31" x2="359.60" y2="219.31" stroke="#2a2a2a" stroke-width="0.6" />
<line x1="356.80" y1="236.10" x2="359.60" y2="236.10" stroke="#2a2a2a" stroke-width="0.9" />
<text x="351.60" y="237.70" font-size="7.0" fill="#3a3a3a" text-anchor="end" >10</text>
<text x="351.80" y="236.00" font-size="4.6" fill="#3a3a3a" >-1</text>
<line x1="358.20" y1="248.40" x2="359.60" y2="248.40" stroke="#2a2a2a" stroke-width="0.6" />
<line x1="358.20" y1="245.30" x2="359.60" y2="245.30" stroke="#2a2a2a" stroke-width="0.6" />
<line x1="358.20" y1="243.10" x2="359.60" y2="243.10" stroke="#2a2a2a" stroke-width="0.6" />
<line x1="358.20" y1="241.40" x2="359.60" y2="241.40" stroke="#2a2a2a" stroke-width="0.6" />
<line x1="358.20" y1="240.00" x2="359.60" y2="240.00" stroke="#2a2a2a" stroke-width="0.6" />
<line x1="358.20" y1="238.83" x2="359.60" y2="238.83" stroke="#2a2a2a" stroke-width="0.6" />
<line x1="358.20" y1="237.81" x2="359.60" y2="237.81" stroke="#2a2a2a" stroke-width="0.6" />
<line x1="358.20" y1="236.91" x2="359.60" y2="236.91" stroke="#2a2a2a" stroke-width="0.6" />
<line x1="356.80" y1="253.70" x2="359.60" y2="253.70" stroke="#2a2a2a" stroke-width="0.9" />
<text x="351.60" y="255.30" font-size="7.0" fill="#3a3a3a" text-anchor="end" >10</text>
<text x="351.80" y="253.60" font-size="4.6" fill="#3a3a3a" >-2</text>
<text x="336.00" y="214.80" font-size="9.2" fill="#3a3a3a" stroke="#3a3a3a" stroke-width="0.18" text-anchor="middle" textLength="41.00" lengthAdjust="spacingAndGlyphs" transform="rotate(-90 336.00 214.80)" >% of BM cells</text>
<text x="371.20" y="260.50" font-size="5.9" fill="#2a2a2a" stroke="#2a2a2a" stroke-width="0.1" text-anchor="middle" textLength="17.30" lengthAdjust="spacingAndGlyphs" >CD33+</text>
<text x="395.20" y="260.50" font-size="5.9" fill="#2a2a2a" stroke="#2a2a2a" stroke-width="0.1" text-anchor="middle" textLength="20.40" lengthAdjust="spacingAndGlyphs" >CD123+</text>
<text x="442.50" y="260.50" font-size="5.9" fill="#2a2a2a" stroke="#2a2a2a" stroke-width="0.1" text-anchor="middle" textLength="17.30" lengthAdjust="spacingAndGlyphs" >CD34+</text>
<text x="465.60" y="260.50" font-size="5.9" fill="#2a2a2a" stroke="#2a2a2a" stroke-width="0.1" text-anchor="middle" textLength="17.30" lengthAdjust="spacingAndGlyphs" >CD19+</text>
<text x="489.20" y="260.50" font-size="5.9" fill="#2a2a2a" stroke="#2a2a2a" stroke-width="0.1" text-anchor="middle" textLength="13.50" lengthAdjust="spacingAndGlyphs" >CD3+</text>
<text x="418.10" y="260.50" font-size="5.9" fill="#2a2a2a" stroke="#2a2a2a" stroke-width="0.1" text-anchor="middle" textLength="15.00" lengthAdjust="spacingAndGlyphs" >CD14/</text>
<text x="418.10" y="266.60" font-size="5.9" fill="#2a2a2a" stroke="#2a2a2a" stroke-width="0.1" text-anchor="middle" textLength="8.80" lengthAdjust="spacingAndGlyphs" >15+</text>
<rect x="368.40" y="180.30" width="1.60" height="1.10" fill="#2a2a2a"/>
<rect x="370.80" y="180.30" width="1.60" height="1.10" fill="#2a2a2a"/>
<rect x="373.20" y="180.30" width="1.60" height="1.10" fill="#2a2a2a"/>
<rect x="391.00" y="180.30" width="1.60" height="1.10" fill="#2a2a2a"/>
<rect x="393.40" y="180.30" width="1.60" height="1.10" fill="#2a2a2a"/>
<rect x="395.80" y="180.30" width="1.60" height="1.10" fill="#2a2a2a"/>
<rect x="398.20" y="180.30" width="1.60" height="1.10" fill="#2a2a2a"/>
<rect x="413.90" y="180.30" width="1.60" height="1.10" fill="#2a2a2a"/>
<rect x="416.30" y="180.30" width="1.60" height="1.10" fill="#2a2a2a"/>
<rect x="418.70" y="180.30" width="1.60" height="1.10" fill="#2a2a2a"/>
<rect x="421.10" y="180.30" width="1.60" height="1.10" fill="#2a2a2a"/>
<rect x="441.70" y="180.30" width="1.60" height="1.10" fill="#2a2a2a"/>
<circle cx="365.40" cy="243.40" r="1.35" fill="#0f6b55"/>
<circle cx="363.00" cy="253.60" r="1.35" fill="#0f6b55"/>
<circle cx="368.00" cy="253.60" r="1.35" fill="#0f6b55"/>
<circle cx="389.00" cy="248.70" r="1.35" fill="#0f6b55"/>
<circle cx="386.50" cy="253.60" r="1.35" fill="#0f6b55"/>
<circle cx="391.20" cy="253.60" r="1.35" fill="#0f6b55"/>
<circle cx="411.20" cy="253.60" r="1.35" fill="#0f6b55"/>
<circle cx="413.30" cy="253.60" r="1.35" fill="#0f6b55"/>
<circle cx="415.40" cy="253.60" r="1.35" fill="#0f6b55"/>
<circle cx="434.40" cy="253.60" r="1.35" fill="#0f6b55"/>
<circle cx="436.60" cy="253.60" r="1.35" fill="#0f6b55"/>
<circle cx="438.60" cy="253.60" r="1.35" fill="#0f6b55"/>
<circle cx="459.50" cy="223.40" r="1.35" fill="#0f6b55"/>
<circle cx="458.00" cy="253.60" r="1.35" fill="#0f6b55"/>
<circle cx="461.00" cy="253.60" r="1.35" fill="#0f6b55"/>
<circle cx="481.50" cy="253.60" r="1.35" fill="#0f6b55"/>
<circle cx="483.80" cy="253.60" r="1.35" fill="#0f6b55"/>
<circle cx="486.20" cy="253.60" r="1.35" fill="#0f6b55"/>
<line x1="362.00" y1="250.20" x2="369.40" y2="250.20" stroke="#0f6b55" stroke-width="1.0" />
<line x1="385.90" y1="252.70" x2="393.20" y2="252.70" stroke="#0f6b55" stroke-width="1.0" />
<line x1="409.80" y1="253.40" x2="416.80" y2="253.40" stroke="#0f6b55" stroke-width="1.0" />
<line x1="433.20" y1="253.40" x2="440.20" y2="253.40" stroke="#0f6b55" stroke-width="1.0" />
<line x1="456.30" y1="243.80" x2="463.70" y2="243.80" stroke="#0f6b55" stroke-width="1.0" />
<line x1="480.80" y1="253.40" x2="487.20" y2="253.40" stroke="#0f6b55" stroke-width="1.0" />
<circle cx="375.30" cy="185.40" r="1.35" fill="#a5082d"/>
<circle cx="379.50" cy="186.50" r="1.35" fill="#a5082d"/>
<circle cx="377.40" cy="193.20" r="1.35" fill="#a5082d"/>
<circle cx="399.00" cy="188.00" r="1.35" fill="#a5082d"/>
<circle cx="403.20" cy="189.40" r="1.35" fill="#a5082d"/>
<circle cx="401.00" cy="195.70" r="1.35" fill="#a5082d"/>
<circle cx="422.80" cy="221.00" r="1.35" fill="#a5082d"/>
<circle cx="426.00" cy="221.30" r="1.35" fill="#a5082d"/>
<circle cx="424.30" cy="225.30" r="1.35" fill="#a5082d"/>
<circle cx="447.80" cy="233.70" r="1.35" fill="#a5082d"/>
<circle cx="447.80" cy="240.70" r="1.35" fill="#a5082d"/>
<circle cx="447.80" cy="248.70" r="1.35" fill="#a5082d"/>
<circle cx="471.70" cy="230.10" r="1.35" fill="#a5082d"/>
<circle cx="473.80" cy="237.10" r="1.35" fill="#a5082d"/>
<circle cx="469.60" cy="241.70" r="1.35" fill="#a5082d"/>
<circle cx="493.20" cy="253.60" r="1.35" fill="#a5082d"/>
<circle cx="495.60" cy="253.60" r="1.35" fill="#a5082d"/>
<circle cx="497.90" cy="253.60" r="1.35" fill="#a5082d"/>
<line x1="373.60" y1="188.40" x2="381.20" y2="188.40" stroke="#a5082d" stroke-width="1.0" />
<line x1="396.80" y1="190.70" x2="404.40" y2="190.70" stroke="#a5082d" stroke-width="1.0" />
<line x1="420.70" y1="222.30" x2="428.00" y2="222.30" stroke="#a5082d" stroke-width="1.0" />
<line x1="444.30" y1="241.10" x2="451.60" y2="241.10" stroke="#a5082d" stroke-width="1.0" />
<line x1="468.10" y1="236.50" x2="475.30" y2="236.50" stroke="#a5082d" stroke-width="1.0" />
<line x1="492.30" y1="253.40" x2="499.00" y2="253.40" stroke="#a5082d" stroke-width="1.0" />
<rect x="53.10" y="309.80" width="6.70" height="7.00" fill="#c8c7cc"/>
<text x="62.80" y="313.80" font-size="6.4" fill="#3a3a3a" stroke="#3a3a3a" stroke-width="0.08" textLength="34.40" lengthAdjust="spacingAndGlyphs" >Untransduced</text>
<rect x="106.20" y="309.80" width="7.70" height="7.00" fill="#8879bd"/>
<text x="116.70" y="313.80" font-size="6.4" fill="#3a3a3a" stroke="#3a3a3a" stroke-width="0.08" textLength="28.00" lengthAdjust="spacingAndGlyphs" >Transduced</text>
<line x1="55.20" y1="320.50" x2="55.20" y2="394.40" stroke="#2a2a2a" stroke-width="1.3" />
<line x1="52.00" y1="393.80" x2="55.20" y2="393.80" stroke="#2a2a2a" stroke-width="0.9" />
<text x="49.00" y="394.50" font-size="7.0" fill="#3a3a3a" text-anchor="end" >0</text>
<line x1="52.00" y1="376.15" x2="55.20" y2="376.15" stroke="#2a2a2a" stroke-width="0.9" />
<text x="49.00" y="376.85" font-size="7.0" fill="#3a3a3a" text-anchor="end" >5</text>
<line x1="52.00" y1="358.50" x2="55.20" y2="358.50" stroke="#2a2a2a" stroke-width="0.9" />
<text x="49.00" y="359.20" font-size="7.0" fill="#3a3a3a" text-anchor="end" >10</text>
<line x1="52.00" y1="340.85" x2="55.20" y2="340.85" stroke="#2a2a2a" stroke-width="0.9" />
<text x="49.00" y="341.55" font-size="7.0" fill="#3a3a3a" text-anchor="end" >15</text>
<line x1="52.00" y1="323.20" x2="55.20" y2="323.20" stroke="#2a2a2a" stroke-width="0.9" />
<text x="49.00" y="323.90" font-size="7.0" fill="#3a3a3a" text-anchor="end" >20</text>
<line x1="54.60" y1="393.80" x2="142.80" y2="393.80" stroke="#2a2a2a" stroke-width="1.3" />
<rect x="60.30" y="369.44" width="7.30" height="24.36" fill="#c8c7cc"/>
<rect x="71.35" y="348.51" width="6.80" height="45.29" fill="#8879bd" stroke="#7262a8" stroke-width="0.5"/>
<rect x="101.05" y="331.92" width="6.80" height="61.88" fill="#8879bd" stroke="#7262a8" stroke-width="0.5"/>
<rect x="119.10" y="386.92" width="7.30" height="6.88" fill="#c8c7cc"/>
<rect x="130.15" y="352.57" width="6.80" height="41.23" fill="#8879bd" stroke="#7262a8" stroke-width="0.5"/>
<line x1="83.60" y1="322.70" x2="83.60" y2="393.30" stroke="#333" stroke-width="0.9" stroke-dasharray="1 1.1"/>
<line x1="113.10" y1="322.70" x2="113.10" y2="393.30" stroke="#333" stroke-width="0.9" stroke-dasharray="1 1.1"/>
<text x="91.80" y="390.80" font-size="5.5" fill="#3a3a3a" text-anchor="middle" textLength="8.70" lengthAdjust="spacingAndGlyphs" >n.d.</text>
<text x="69.30" y="403.60" font-size="7.6" fill="#3a3a3a" stroke="#3a3a3a" stroke-width="0.12" text-anchor="middle" textLength="9.20" lengthAdjust="spacingAndGlyphs" >IL3</text>
<text x="99.00" y="403.60" font-size="7.6" fill="#3a3a3a" stroke="#3a3a3a" stroke-width="0.12" text-anchor="middle" textLength="25.50" lengthAdjust="spacingAndGlyphs" >GM-CSF</text>
<text x="128.60" y="403.60" font-size="7.6" fill="#3a3a3a" stroke="#3a3a3a" stroke-width="0.12" text-anchor="middle" textLength="12.00" lengthAdjust="spacingAndGlyphs" >SCF</text>
<line x1="69.20" y1="393.80" x2="69.20" y2="396.20" stroke="#2a2a2a" stroke-width="0.9" />
<line x1="98.80" y1="393.80" x2="98.80" y2="396.20" stroke="#2a2a2a" stroke-width="0.9" />
<line x1="128.50" y1="393.80" x2="128.50" y2="396.20" stroke="#2a2a2a" stroke-width="0.9" />
<text x="33.30" y="357.00" font-size="9.2" fill="#3a3a3a" stroke="#3a3a3a" stroke-width="0.18" text-anchor="middle" textLength="59.50" lengthAdjust="spacingAndGlyphs" transform="rotate(-90 33.30 357.00)" >[Cytokines] (ng/ml)</text>
<text x="207.70" y="309.70" font-size="8.0" fill="#3a3a3a" stroke="#3a3a3a" stroke-width="0.15" textLength="6.90" lengthAdjust="spacingAndGlyphs" >(i)</text>
<text x="222.50" y="319.60" font-size="7.0" fill="#3a3a3a" stroke="#3a3a3a" stroke-width="0.12" text-anchor="middle" textLength="20.40" lengthAdjust="spacingAndGlyphs" >CD34+</text>
<text x="222.70" y="327.50" font-size="7.0" fill="#3a3a3a" stroke="#3a3a3a" stroke-width="0.12" text-anchor="middle" textLength="23.10" lengthAdjust="spacingAndGlyphs" >CB cells</text>
<text x="292.90" y="327.40" font-size="7.0" fill="#1d7a62" stroke="#1d7a62" stroke-width="0.12" text-anchor="middle" textLength="13.70" lengthAdjust="spacingAndGlyphs" >NRG</text>
<circle cx="219.90" cy="335.00" r="2.10" fill="#fff" stroke="#000" stroke-width="1.1"/>
<circle cx="224.70" cy="335.00" r="2.10" fill="#fff" stroke="#000" stroke-width="1.1"/>
<circle cx="218.70" cy="337.70" r="2.10" fill="#fff" stroke="#000" stroke-width="1.1"/>
<circle cx="225.90" cy="337.70" r="2.10" fill="#fff" stroke="#000" stroke-width="1.1"/>
<circle cx="219.90" cy="340.10" r="2.10" fill="#fff" stroke="#000" stroke-width="1.1"/>
<circle cx="224.70" cy="340.10" r="2.10" fill="#fff" stroke="#000" stroke-width="1.1"/>
<circle cx="222.30" cy="337.50" r="1.30" fill="#000"/>
<line x1="229.30" y1="337.90" x2="238.00" y2="337.90" stroke="#111" stroke-width="1.0" />
<polygon points="241.8,337.9 237.2,335.7 237.2,340.1" fill="#111"/>
<circle cx="254.40" cy="338.50" r="1.50" fill="#a5082d" stroke="#000" stroke-width="0.95"/>
<circle cx="247.40" cy="338.70" r="2.00" fill="#a5082d" stroke="#000" stroke-width="0.95"/>
<circle cx="252.60" cy="338.50" r="2.00" fill="#a5082d" stroke="#000" stroke-width="0.95"/>
<circle cx="250.00" cy="341.30" r="1.80" fill="#fff" stroke="#000" stroke-width="0.95"/>
<circle cx="250.00" cy="336.20" r="2.10" fill="#fff" stroke="#000" stroke-width="0.95"/>
<line x1="258.20" y1="338.20" x2="267.40" y2="338.20" stroke="#111" stroke-width="1.0" />
<polygon points="271.0,338.2 266.4,336.0 266.4,340.4" fill="#111"/>
<line x1="273.60" y1="335.60" x2="275.80" y2="337.40" stroke="#111" stroke-width="0.6" />
<line x1="275.90" y1="337.50" x2="280.80" y2="343.30" stroke="#111" stroke-width="2.1" />
<g fill="none" stroke="#006e50" stroke-width="1.25" stroke-linecap="round" stroke-linejoin="round"><ellipse cx="289.6" cy="339.6" rx="6.5" ry="4.4" transform="rotate(-22 289.6 339.6)"/><path d="M283.4,343.6 C281.6,344.2 280.2,345.4 280.6,346.6 L279.9,348.6 L281.5,347.8"/><ellipse cx="291.3" cy="333.8" rx="0.95" ry="1.6" transform="rotate(-10 291.3 333.8)"/><ellipse cx="294.9" cy="333.4" rx="1.0" ry="1.5" transform="rotate(25 294.9 333.4)"/><path d="M292.2,335.6 L292.9,338.2"/></g>
<text x="250.00" y="353.70" font-size="8.0" fill="#643a7a" stroke="#643a7a" stroke-width="0.22" text-anchor="middle" textLength="37.60" lengthAdjust="spacingAndGlyphs" >MYC+SCF</text>
<text x="249.90" y="363.80" font-size="8.0" fill="#3f5f94" stroke="#3f5f94" stroke-width="0.22" text-anchor="middle" textLength="91.40" lengthAdjust="spacingAndGlyphs" >3GS or IL3 or GM or SCF</text>
<text x="250.30" y="373.80" font-size="8.0" fill="#a56e3c" stroke="#a56e3c" stroke-width="0.22" text-anchor="middle" textLength="70.60" lengthAdjust="spacingAndGlyphs" >MYC+GM-CSF(GM)</text>
<text x="249.70" y="383.50" font-size="8.0" fill="#e0962a" stroke="#e0962a" stroke-width="0.22" text-anchor="middle" textLength="33.30" lengthAdjust="spacingAndGlyphs" >MYC+IL3</text>
<text x="250.20" y="392.70" font-size="8.0" fill="#c8288c" stroke="#c8288c" stroke-width="0.22" text-anchor="middle" textLength="88.00" lengthAdjust="spacingAndGlyphs" >MYC+IL3/GM/SCF(3GS)</text>
<text x="331.50" y="309.50" font-size="8.0" fill="#3a3a3a" stroke="#3a3a3a" stroke-width="0.15" textLength="9.80" lengthAdjust="spacingAndGlyphs" >(ii)</text>
<line x1="360.20" y1="311.00" x2="360.20" y2="394.20" stroke="#2a2a2a" stroke-width="1.3" />
<line x1="356.80" y1="393.60" x2="360.20" y2="393.60" stroke="#2a2a2a" stroke-width="0.9" />
<line x1="358.20" y1="385.55" x2="360.20" y2="385.55" stroke="#2a2a2a" stroke-width="0.9" />
<line x1="356.80" y1="377.50" x2="360.20" y2="377.50" stroke="#2a2a2a" stroke-width="0.9" />
<line x1="358.20" y1="369.45" x2="360.20" y2="369.45" stroke="#2a2a2a" stroke-width="0.9" />
<line x1="356.80" y1="361.40" x2="360.20" y2="361.40" stroke="#2a2a2a" stroke-width="0.9" />
<line x1="358.20" y1="353.35" x2="360.20" y2="353.35" stroke="#2a2a2a" stroke-width="0.9" />
<line x1="356.80" y1="345.30" x2="360.20" y2="345.30" stroke="#2a2a2a" stroke-width="0.9" />
<line x1="358.20" y1="337.25" x2="360.20" y2="337.25" stroke="#2a2a2a" stroke-width="0.9" />
<line x1="356.80" y1="329.20" x2="360.20" y2="329.20" stroke="#2a2a2a" stroke-width="0.9" />
<line x1="358.20" y1="321.15" x2="360.20" y2="321.15" stroke="#2a2a2a" stroke-width="0.9" />
<line x1="356.80" y1="313.10" x2="360.20" y2="313.10" stroke="#2a2a2a" stroke-width="0.9" />
<text x="355.00" y="378.00" font-size="6.8" fill="#3a3a3a" text-anchor="end" >20</text>
<text x="355.00" y="361.90" font-size="6.8" fill="#3a3a3a" text-anchor="end" >40</text>
<text x="355.00" y="345.80" font-size="6.8" fill="#3a3a3a" text-anchor="end" >60</text>
<text x="355.00" y="329.70" font-size="6.8" fill="#3a3a3a" text-anchor="end" >80</text>
<text x="355.00" y="313.60" font-size="6.8" fill="#3a3a3a" text-anchor="end" >100</text>
<line x1="359.60" y1="393.80" x2="487.00" y2="393.80" stroke="#2a2a2a" stroke-width="1.3" />
<line x1="360.20" y1="393.80" x2="360.20" y2="396.40" stroke="#2a2a2a" stroke-width="0.8" />
<line x1="385.45" y1="393.80" x2="385.45" y2="396.40" stroke="#2a2a2a" stroke-width="0.8" />
<line x1="410.70" y1="393.80" x2="410.70" y2="396.40" stroke="#2a2a2a" stroke-width="0.8" />
<line x1="435.95" y1="393.80" x2="435.95" y2="396.40" stroke="#2a2a2a" stroke-width="0.8" />
<line x1="461.20" y1="393.80" x2="461.20" y2="396.40" stroke="#2a2a2a" stroke-width="0.8" />
<line x1="486.45" y1="393.80" x2="486.45" y2="396.40" stroke="#2a2a2a" stroke-width="0.8" />
<text x="385.45" y="405.30" font-size="6.8" fill="#3a3a3a" text-anchor="middle" >5</text>
<text x="410.70" y="405.30" font-size="6.8" fill="#3a3a3a" text-anchor="middle" >10</text>
<text x="435.95" y="405.30" font-size="6.8" fill="#3a3a3a" text-anchor="middle" >15</text>
<text x="461.20" y="405.30" font-size="6.8" fill="#3a3a3a" text-anchor="middle" >20</text>
<text x="486.45" y="405.30" font-size="6.8" fill="#3a3a3a" text-anchor="middle" >25</text>
<text x="334.80" y="351.60" font-size="9.2" fill="#3a3a3a" stroke="#3a3a3a" stroke-width="0.18" text-anchor="middle" textLength="30.40" lengthAdjust="spacingAndGlyphs" transform="rotate(-90 334.80 351.60)" >% survival</text>
<text x="424.50" y="414.00" font-size="9.2" fill="#3a3a3a" stroke="#3a3a3a" stroke-width="0.18" text-anchor="middle" textLength="67.40" lengthAdjust="spacingAndGlyphs" >Weeks post-transplant</text>
<polyline points="360.20,313.30 486.00,313.30" fill="none" stroke="#4a66a6" stroke-width="1.35" />
<polyline points="360.20,311.90 486.00,311.90" fill="none" stroke="#6f5497" stroke-width="1.35" />
<line x1="407.30" y1="310.80" x2="407.30" y2="313.50" stroke="#111" stroke-width="0.9" />
<polyline points="360.20,313.30 386.40,313.30 386.40,324.90 393.30,324.90 393.30,336.60 398.50,336.60 398.50,347.90 415.60,347.90 415.60,363.30 441.40,363.30 441.40,378.60 486.00,378.60" fill="none" stroke="#e39a24" stroke-width="1.35" />
<line x1="407.60" y1="346.40" x2="407.60" y2="349.00" stroke="#111" stroke-width="0.9" />
<polyline points="360.20,313.30 384.60,313.30 384.60,323.40 385.60,323.40 385.60,334.70 389.00,334.70 389.00,347.80 390.80,347.80 390.80,359.00 404.50,359.00 404.50,370.70 486.00,370.70" fill="none" stroke="#b07d4a" stroke-width="1.35" />
<polyline points="360.20,313.30 383.00,313.30 383.00,322.80 385.10,322.80 385.10,333.30 386.50,333.30 386.50,342.00 388.00,342.00 388.00,363.30 396.40,363.30 396.40,373.50 429.60,373.50 429.60,383.80 432.00,383.80 432.00,393.80" fill="none" stroke="#d0269a" stroke-width="1.35" />
<text x="429.80" y="318.50" font-size="5.5" fill="#7b4f93" stroke="#7b4f93" stroke-width="0.15" textLength="40.40" lengthAdjust="spacingAndGlyphs" >MYC+SCF (<tspan font-style="italic">n</tspan>=7)</text>
<text x="411.90" y="326.30" font-size="5.5" fill="#5a76a8" stroke="#5a76a8" stroke-width="0.15" textLength="60.20" lengthAdjust="spacingAndGlyphs" >3GS/IL3/GM/SCF (<tspan font-style="italic">n</tspan>=16)</text>
<text x="446.20" y="366.30" font-size="5.5" fill="#bf8e5e" stroke="#bf8e5e" stroke-width="0.15" textLength="39.30" lengthAdjust="spacingAndGlyphs" >MYC+GM (<tspan font-style="italic">n</tspan>=7)</text>
<text x="445.90" y="384.20" font-size="5.5" fill="#e7a646" stroke="#e7a646" stroke-width="0.15" textLength="36.90" lengthAdjust="spacingAndGlyphs" >MYC+IL3 (<tspan font-style="italic">n</tspan>=7)</text>
<text x="385.20" y="389.80" font-size="5.5" fill="#d2409b" stroke="#d2409b" stroke-width="0.15" textLength="40.40" lengthAdjust="spacingAndGlyphs" >MYC+3GS (<tspan font-style="italic">n</tspan>=8)</text>
</svg>
</body></html>
